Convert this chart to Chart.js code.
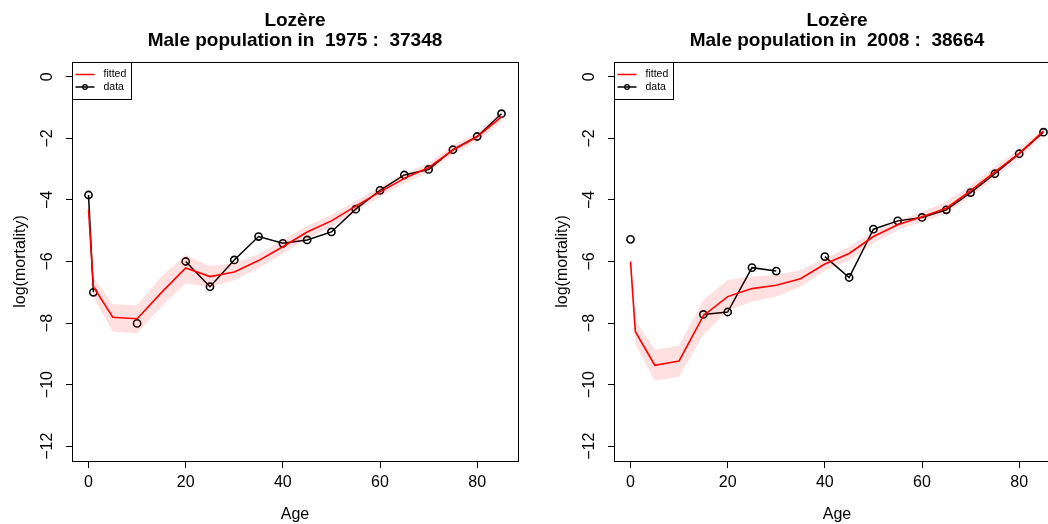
<!DOCTYPE html>
<html>
<head>
<meta charset="utf-8">
<script src="https://cdn.jsdelivr.net/npm/chart.js@4/dist/chart.umd.min.js"></script>
<style>
    html, body { margin: 0; padding: 0; background: #fff; overflow: hidden; }
    #wrap { position: relative; width: 1048px; height: 524px; overflow: hidden; }
    .panel { position: absolute; top: 0; width: 542px; height: 524px; }
</style>
</head>
<body>
<div id="wrap">
    <div class="panel" style="left:0"><canvas id="c1" width="542" height="524"></canvas></div>
    <div class="panel" style="left:542px"><canvas id="c2" width="542" height="524"></canvas></div>
</div>
<script>
// age groups (abridged life table)
const ages = [0, 1, 5, 10, 15, 20, 25, 30, 35, 40, 45, 50, 55, 60, 65, 70, 75, 80, 85];
const xTicks = [0, 20, 40, 60, 80];
const yTicks = [-12, -10, -8, -6, -4, -2, 0];

// 1975
const data1975 = [-3.84, -7.00, null, -8.01, null, -6.00, -6.82, -5.95, -5.19, -5.41, -5.30, -5.04, -4.30, -3.69, -3.19, -3.01, -2.37, -1.94, -1.20];
const fit1975 = [-4.31, -6.82, -7.81, -7.86, -7.01, -6.21, -6.49, -6.34, -5.97, -5.52, -5.04, -4.68, -4.20, -3.74, -3.30, -2.95, -2.38, -1.95, -1.30];
const upper1975 = [-4.15, -6.50, -7.38, -7.42, -6.49, -5.79, -6.15, -6.06, -5.76, -5.30, -4.84, -4.49, -4.03, -3.57, -3.14, -2.81, -2.22, -1.81, -1.14];
const lower1975 = [-4.45, -7.15, -8.28, -8.33, -7.47, -6.71, -6.84, -6.60, -6.22, -5.74, -5.26, -4.87, -4.39, -3.90, -3.46, -3.10, -2.52, -2.09, -1.46];

// 2008
const data2008 = [-5.28, null, null, null, -7.72, -7.64, -6.20, -6.31, null, -5.84, -6.52, -4.95, -4.68, -4.57, -4.32, -3.76, -3.15, -2.50, -1.80];
const fit2008 = [-6.00, -8.28, -9.37, -9.23, -7.76, -7.14, -6.88, -6.77, -6.56, -6.08, -5.74, -5.19, -4.81, -4.55, -4.27, -3.70, -3.09, -2.49, -1.76];
const upper2008 = [-5.55, -7.90, -8.87, -8.74, -7.25, -6.60, -6.49, -6.44, -6.28, -5.90, -5.52, -5.03, -4.68, -4.38, -4.06, -3.52, -2.92, -2.35, -1.66];
const lower2008 = [-6.45, -8.71, -9.87, -9.74, -8.39, -7.58, -7.31, -7.14, -6.82, -6.30, -5.97, -5.41, -4.98, -4.71, -4.44, -3.90, -3.28, -2.65, -1.93];

const FONT = '"Liberation Sans", Arial, sans-serif';
const MINUS = '\u2212';

function pts(values) {
    return ages.map((a, i) => ({ x: a, y: values[i] }));
}

// R-style frame, titles, labels and legend
const rFrame = {
    id: 'rFrame',
    afterDraw(chart, args, opts) {
        const ctx = chart.ctx;
        const ca = chart.chartArea;
        const xs = chart.scales.x;
        const ys = chart.scales.y;
        const cx = (ca.left + ca.right) / 2;
        ctx.save();
        ctx.fillStyle = '#000';
        ctx.strokeStyle = '#000';
        ctx.lineWidth = 1;

        // box
        ctx.strokeRect(Math.round(ca.left) + 0.5, Math.round(ca.top) + 0.5,
            Math.round(ca.right - ca.left), Math.round(ca.bottom - ca.top));

        // title
        ctx.textAlign = 'center';
        ctx.textBaseline = 'middle';
        ctx.font = 'bold 19px ' + FONT;
        ctx.fillText('Lozère', cx, 21);
        ctx.fillText(opts.subtitle, cx, 41);

        // x tick labels + axis title
        ctx.font = '16px ' + FONT;
        xs.ticks.forEach(t => {
            ctx.fillText(String(t.value).replace('-', MINUS), xs.getPixelForValue(t.value), 483);
        });
        ctx.fillText('Age', cx, 515);

        // y tick labels (rotated) + axis title
        ys.ticks.forEach(t => {
            ctx.save();
            ctx.translate(48, ys.getPixelForValue(t.value));
            ctx.rotate(-Math.PI / 2);
            ctx.fillText(String(t.value).replace('-', MINUS), 0, 0);
            ctx.restore();
        });
        ctx.save();
        ctx.translate(21, (ca.top + ca.bottom) / 2);
        ctx.rotate(-Math.PI / 2);
        ctx.fillText('log(mortality)', 0, 0);
        ctx.restore();

        // legend
        const lx = Math.round(ca.left) + 0.5;
        const ly = Math.round(ca.top) + 0.5;
        ctx.fillStyle = '#fff';
        ctx.fillRect(lx, ly, 59, 37);
        ctx.strokeStyle = '#000';
        ctx.strokeRect(lx, ly, 59, 37);
        ctx.lineWidth = 1.5;
        ctx.strokeStyle = '#ff0000';
        ctx.beginPath();
        ctx.moveTo(lx + 3, ly + 12);
        ctx.lineTo(lx + 22, ly + 12);
        ctx.stroke();
        ctx.strokeStyle = '#000';
        ctx.beginPath();
        ctx.moveTo(lx + 3, ly + 24.5);
        ctx.lineTo(lx + 22, ly + 24.5);
        ctx.stroke();
        ctx.lineWidth = 1.2;
        ctx.beginPath();
        ctx.arc(lx + 12.5, ly + 24.5, 2.3, 0, Math.PI * 2);
        ctx.stroke();
        ctx.fillStyle = '#000';
        ctx.textAlign = 'left';
        ctx.font = '10.5px ' + FONT;
        ctx.fillText('fitted', lx + 31, ly + 12);
        ctx.fillText('data', lx + 31, ly + 24.5);
        ctx.restore();
    }
};

function makePanel(canvasId, subtitle, data, fit, upper, lower) {
    const ctx = document.getElementById(canvasId);
    return new Chart(ctx, {
        type: 'line',
        data: {
            datasets: [
                {
                    label: 'upper',
                    data: pts(upper),
                    borderWidth: 0,
                    pointRadius: 0,
                    backgroundColor: 'rgba(255, 0, 0, 0.12)',
                    fill: '+1',
                    tension: 0,
                },
                {
                    label: 'lower',
                    data: pts(lower),
                    borderWidth: 0,
                    pointRadius: 0,
                    fill: false,
                    tension: 0,
                },
                {
                    label: 'fitted',
                    data: pts(fit),
                    borderColor: '#ff0000',
                    borderWidth: 1.6,
                    pointRadius: 0,
                    fill: false,
                    tension: 0,
                },
                {
                    label: 'data',
                    data: pts(data),
                    borderColor: '#000',
                    borderWidth: 1.5,
                    pointRadius: 3.6,
                    pointBorderWidth: 1.6,
                    pointBorderColor: '#000',
                    pointBackgroundColor: 'rgba(0,0,0,0)',
                    spanGaps: false,
                    fill: false,
                    tension: 0,
                }
            ]
        },
        options: {
            responsive: false,
            animation: false,
            events: [],
            layout: { padding: { top: 62, right: 24, left: 0, bottom: 0 } },
            plugins: {
                legend: { display: false },
                tooltip: { enabled: false },
                title: { display: false },
                rFrame: { subtitle: subtitle }
            },
            scales: {
                x: {
                    type: 'linear',
                    min: -3.4,
                    max: 88.4,
                    afterBuildTicks: (scale) => { scale.ticks = xTicks.map(v => ({ value: v })); },
                    afterFit: (scale) => { scale.height = 63; },
                    ticks: { display: false },
                    border: { display: false },
                    grid: { display: true, drawOnChartArea: false, drawTicks: true, tickLength: 7, color: '#000', lineWidth: 1 }
                },
                y: {
                    type: 'linear',
                    min: -12.48,
                    max: 0.48,
                    afterBuildTicks: (scale) => { scale.ticks = yTicks.map(v => ({ value: v })); },
                    afterFit: (scale) => { scale.width = 72; },
                    ticks: { display: false },
                    border: { display: false },
                    grid: { display: true, drawOnChartArea: false, drawTicks: true, tickLength: 6, color: '#000', lineWidth: 1 }
                }
            }
        },
        plugins: [rFrame]
    });
}

makePanel('c1', 'Male population in  1975 :  37348', data1975, fit1975, upper1975, lower1975);
makePanel('c2', 'Male population in  2008 :  38664', data2008, fit2008, upper2008, lower2008);
</script>
</body>
</html>
